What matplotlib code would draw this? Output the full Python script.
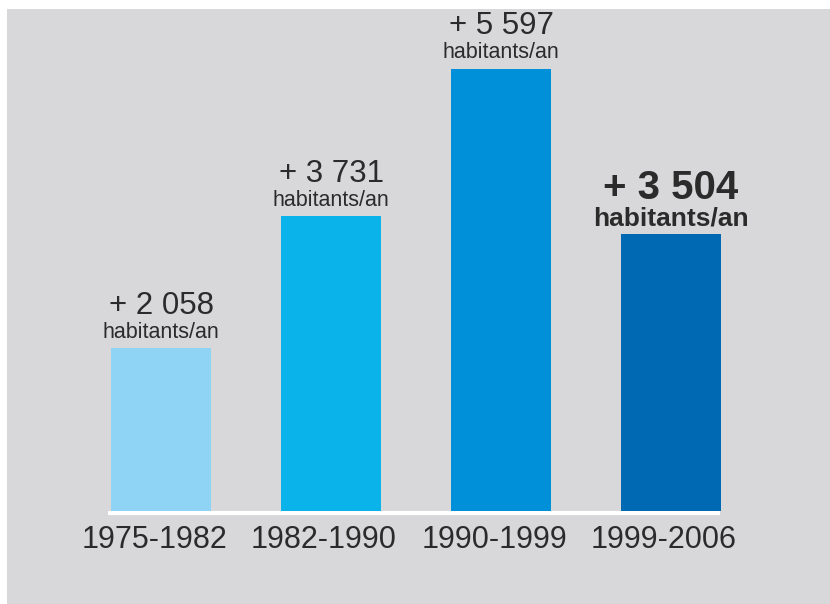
import matplotlib.pyplot as plt
from matplotlib.patches import Rectangle
from matplotlib.transforms import offset_copy, ScaledTranslation

periods = ["1975-1982", "1982-1990", "1990-1999", "1999-2006"]
growth = [2058, 3731, 5597, 3504]
value_labels = ["+ 2 058", "+ 3 731", "+ 5 597", "+ 3 504"]
unit_label = "habitants/an"
bar_colors = ["#8fd4f5", "#0ab4ea", "#0090d9", "#0069b4"]
highlight = [False, False, False, True]

W, H, DPI = 830, 604, 100
fig = plt.figure(figsize=(W / DPI, H / DPI), dpi=DPI)
fig.patch.set_facecolor("white")
# grey panel behind the chart
fig.add_artist(Rectangle((7 / W, 0), 1, (H - 9) / H, transform=fig.transFigure,
                         facecolor="#d8d8da", edgecolor="none", zorder=-10))

base_px = 93  # baseline height from bottom, pixels
ax = fig.add_axes([0, base_px / H, 1, (H - base_px) / H])
ax.patch.set_alpha(0)
for s in ax.spines.values():
    s.set_visible(False)

x = list(range(len(periods)))
step = 170  # px between bar centres
ax.set_xlim(-161 / step, (W - 161) / step)
ax.set_ylim(0, (H - base_px) / 0.079)

ax.bar(x, growth, width=0.59, color=bar_colors, zorder=2)

# white baseline under the bars
line_tr = offset_copy(ax.transData, fig, x=0, y=-2, units="dots")
ax.plot([x[0] - 0.31, x[-1] + 0.29], [0, 0], color="white", lw=3,
        transform=line_tr, solid_capstyle="butt", zorder=1, clip_on=False)

txt = "#2b2b2b"
for xi, v, lab, hl in zip(x, growth, value_labels, highlight):
    if hl:
        ax.annotate(unit_label, (xi, v), xytext=(0, 6), textcoords="offset points",
                    ha="center", va="baseline", fontsize=19, fontweight="bold",
                    color=txt, family="Liberation Sans")
        ax.annotate(lab, (xi, v), xytext=(0, 25), textcoords="offset points",
                    ha="center", va="baseline", fontsize=29, fontweight="bold",
                    color=txt, family="Liberation Sans")
    else:
        ax.annotate(unit_label, (xi, v), xytext=(0, 7.5), textcoords="offset points",
                    ha="center", va="baseline", fontsize=15.5,
                    color=txt, family="Liberation Sans")
        ax.annotate(lab, (xi, v), xytext=(0, 25), textcoords="offset points",
                    ha="center", va="baseline", fontsize=22.5,
                    color=txt, family="Liberation Sans")

ax.set_yticks([])
ax.set_xticks(x)
ax.set_xticklabels(periods, fontsize=22, color=txt, family="Liberation Sans")
ax.tick_params(axis="x", length=0, pad=10)
shift = ScaledTranslation(-7 / DPI, 0, fig.dpi_scale_trans)
for t in ax.get_xticklabels():
    t.set_transform(t.get_transform() + shift)

fig.savefig("out.png", dpi=DPI)
